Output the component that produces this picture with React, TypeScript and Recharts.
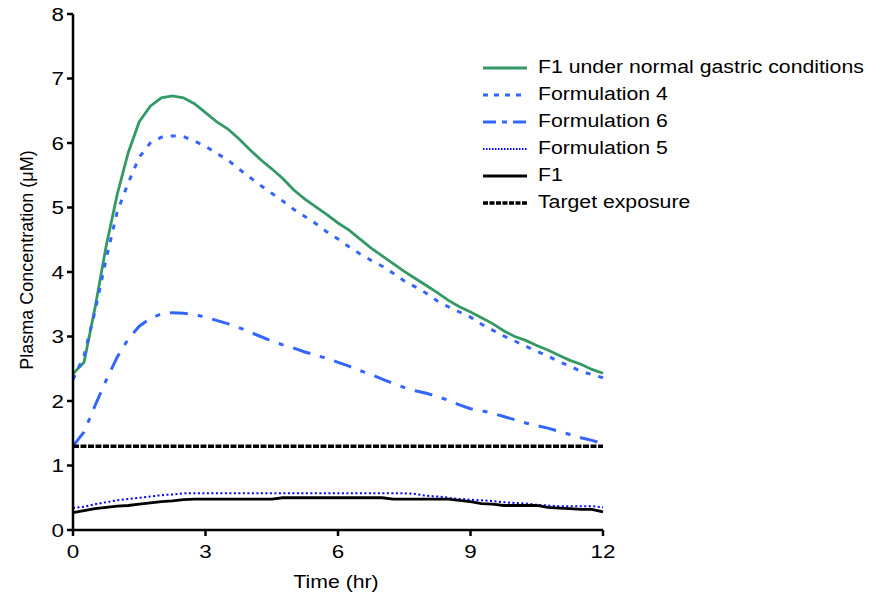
import React from 'react';
import { LineChart, Line, XAxis, YAxis, Legend } from 'recharts';

// time points (hr)
const hours = [
  0, 0.25, 0.5, 0.75, 1, 1.25, 1.5, 1.75, 2, 2.25, 2.5, 2.75, 3, 3.25, 3.5, 3.75, 4,
  4.25, 4.5, 4.75, 5, 5.25, 5.5, 5.75, 6, 6.25, 6.5, 6.75, 7, 7.25, 7.5, 7.75, 8,
  8.25, 8.5, 8.75, 9, 9.25, 9.5, 9.75, 10, 10.25, 10.5, 10.75, 11, 11.25, 11.5, 11.75, 12,
];

const f1Normal = [
  2.42, 2.6, 3.45, 4.4, 5.2, 5.85, 6.33, 6.57, 6.7, 6.73, 6.7, 6.61, 6.47, 6.33, 6.22, 6.07, 5.9,
  5.74, 5.6, 5.45, 5.27, 5.13, 5.01, 4.89, 4.76, 4.65, 4.51, 4.37, 4.25, 4.13, 4.01, 3.9, 3.79,
  3.68, 3.56, 3.46, 3.38, 3.29, 3.2, 3.09, 3.0, 2.94, 2.86, 2.79, 2.71, 2.63, 2.57, 2.49, 2.43,
];

const formulation4 = [
  2.33, 2.7, 3.4, 4.2, 4.93, 5.38, 5.78, 6.0, 6.09, 6.11, 6.1, 6.03, 5.95, 5.84, 5.74, 5.6, 5.47,
  5.34, 5.22, 5.1, 4.97, 4.86, 4.75, 4.62, 4.51, 4.39, 4.28, 4.18, 4.09, 3.98, 3.86, 3.77, 3.67,
  3.55, 3.46, 3.38, 3.3, 3.19, 3.1, 3.01, 2.93, 2.85, 2.77, 2.7, 2.61, 2.54, 2.46, 2.41, 2.36,
];

const formulation6 = [
  1.3, 1.52, 1.93, 2.32, 2.68, 2.96, 3.16, 3.28, 3.35, 3.37, 3.36, 3.34, 3.3, 3.25, 3.2, 3.14, 3.07,
  3.0, 2.93, 2.87, 2.82, 2.76, 2.71, 2.66, 2.6, 2.54, 2.47, 2.41, 2.34, 2.27, 2.21, 2.16, 2.12,
  2.07, 2.01, 1.94, 1.88, 1.85, 1.81, 1.76, 1.71, 1.66, 1.62, 1.58, 1.53, 1.48, 1.43, 1.39, 1.34,
];

const formulation5 = [
  0.34, 0.36, 0.4, 0.43, 0.46, 0.48, 0.5, 0.52, 0.54, 0.55, 0.57, 0.57, 0.57, 0.57, 0.57, 0.57, 0.57,
  0.57, 0.57, 0.57, 0.57, 0.57, 0.57, 0.57, 0.57, 0.57, 0.57, 0.57, 0.57, 0.57, 0.57, 0.56, 0.53,
  0.52, 0.5, 0.48, 0.47, 0.46, 0.45, 0.43, 0.42, 0.41, 0.39, 0.38, 0.37, 0.37, 0.37, 0.37, 0.35,
];

const f1 = [
  0.27, 0.3, 0.33, 0.35, 0.37, 0.38, 0.4, 0.42, 0.44, 0.45, 0.47, 0.48, 0.48, 0.48, 0.48, 0.48, 0.48,
  0.48, 0.48, 0.5, 0.5, 0.5, 0.5, 0.5, 0.5, 0.5, 0.5, 0.5, 0.5, 0.48, 0.48, 0.48, 0.48,
  0.48, 0.48, 0.46, 0.44, 0.41, 0.4, 0.38, 0.38, 0.38, 0.38, 0.35, 0.34, 0.33, 0.32, 0.32, 0.28,
];

const targetExposure = 1.3;

const xTicks = [0, 3, 6, 9, 12];
const yTicks = [0, 1, 2, 3, 4, 5, 6, 7, 8];

const data = hours.map((t, i) => ({
  t,
  normal: f1Normal[i],
  f4: formulation4[i],
  f6: formulation6[i],
  f5: formulation5[i],
  f1: f1[i],
  target: targetExposure,
}));

const series = [
  { key: 'normal', name: 'F1 under normal gastric conditions', color: '#339966', width: 2.8, dash: undefined, legendDash: undefined },
  { key: 'f4', name: 'Formulation 4', color: '#3366ff', width: 3, dash: '5 8', legendDash: '5 6' },
  { key: 'f6', name: 'Formulation 6', color: '#3366ff', width: 3, dash: '18 10 5 10', legendDash: '13 6 5 6' },
  { key: 'f5', name: 'Formulation 5', color: '#0000ff', width: 2, dash: '2 2.5', legendDash: '1.5 1.5' },
  { key: 'f1', name: 'F1', color: '#000000', width: 2.8, dash: undefined, legendDash: undefined },
  { key: 'target', name: 'Target exposure', color: '#000000', width: 3.5, dash: '6 1.5', legendDash: '5 1.5' },
];

const FONT = '"Liberation Sans", Arial, sans-serif';
const STRETCH = 1.18; // text in the reference is wider than tall

const XTick = (props: any) => {
  const { x, y, payload } = props;
  return (
    <text
      transform={`translate(${x},${y + 20}) scale(${STRETCH},1)`}
      textAnchor="middle"
      fontSize={19}
      fontFamily={FONT}
      fill="#000"
    >
      {payload.value}
    </text>
  );
};

const YTick = (props: any) => {
  const { y, payload } = props;
  return (
    <text
      transform={`translate(64,${y}) scale(${STRETCH},1)`}
      textAnchor="end"
      dy="0.355em"
      fontSize={19}
      fontFamily={FONT}
      fill="#000"
    >
      {payload.value}
    </text>
  );
};

const renderLegend = () => (
  <div style={{ fontFamily: FONT, fontSize: 18, color: '#000' }}>
    {series.map((s) => (
      <div key={s.key} style={{ display: 'flex', alignItems: 'center', height: 27 }}>
        <svg width={46} height={10}>
          <line x1={0} y1={5} x2={44} y2={5} stroke={s.color} strokeWidth={s.width} strokeDasharray={s.legendDash} />
        </svg>
        <span
          style={{
            marginLeft: 9,
            whiteSpace: 'nowrap',
            display: 'inline-block',
            transform: `scaleX(${STRETCH})`,
            transformOrigin: 'left center',
          }}
        >
          {s.name}
        </span>
      </div>
    ))}
  </div>
);

export default function App() {
  return (
    <div style={{ position: 'absolute', left: 0, top: 0, background: '#fff' }}>
      <LineChart width={886} height={595} data={data} margin={{ top: 14, right: 283, bottom: 0, left: 0 }}>
        <XAxis
          dataKey="t"
          type="number"
          domain={[0, 12]}
          ticks={xTicks}
          height={65}
          stroke="#000"
          strokeWidth={2.5}
          tickSize={6}
          tick={<XTick />}
          label={{
            content: () => (
              <text
                transform={`translate(336,588) scale(${STRETCH},1)`}
                textAnchor="middle"
                fontSize={18}
                fontFamily={FONT}
                fill="#000"
              >
                Time (hr)
              </text>
            ),
          }}
        />
        <YAxis
          type="number"
          domain={[0, 8]}
          ticks={yTicks}
          width={73}
          stroke="#000"
          strokeWidth={2.5}
          tickSize={6}
          tick={<YTick />}
          label={{
            content: () => (
              <text
                x={33}
                y={260}
                transform="rotate(-90 33 260)"
                textAnchor="middle"
                fontSize={18}
                fontFamily={FONT}
                fill="#000"
              >
                Plasma Concentration (μM)
              </text>
            ),
          }}
        />
        <Legend
          layout="vertical"
          align="center"
          verticalAlign="middle"
          content={renderLegend}
          wrapperStyle={{ position: 'absolute', left: 483, top: 54, width: 'auto' }}
        />
        {series.map((s) => (
          <Line
            key={s.key}
            dataKey={s.key}
            name={s.name}
            type="linear"
            stroke={s.color}
            strokeWidth={s.width}
            strokeDasharray={s.dash}
            dot={false}
            activeDot={false}
            isAnimationActive={false}
          />
        ))}
      </LineChart>
    </div>
  );
}
